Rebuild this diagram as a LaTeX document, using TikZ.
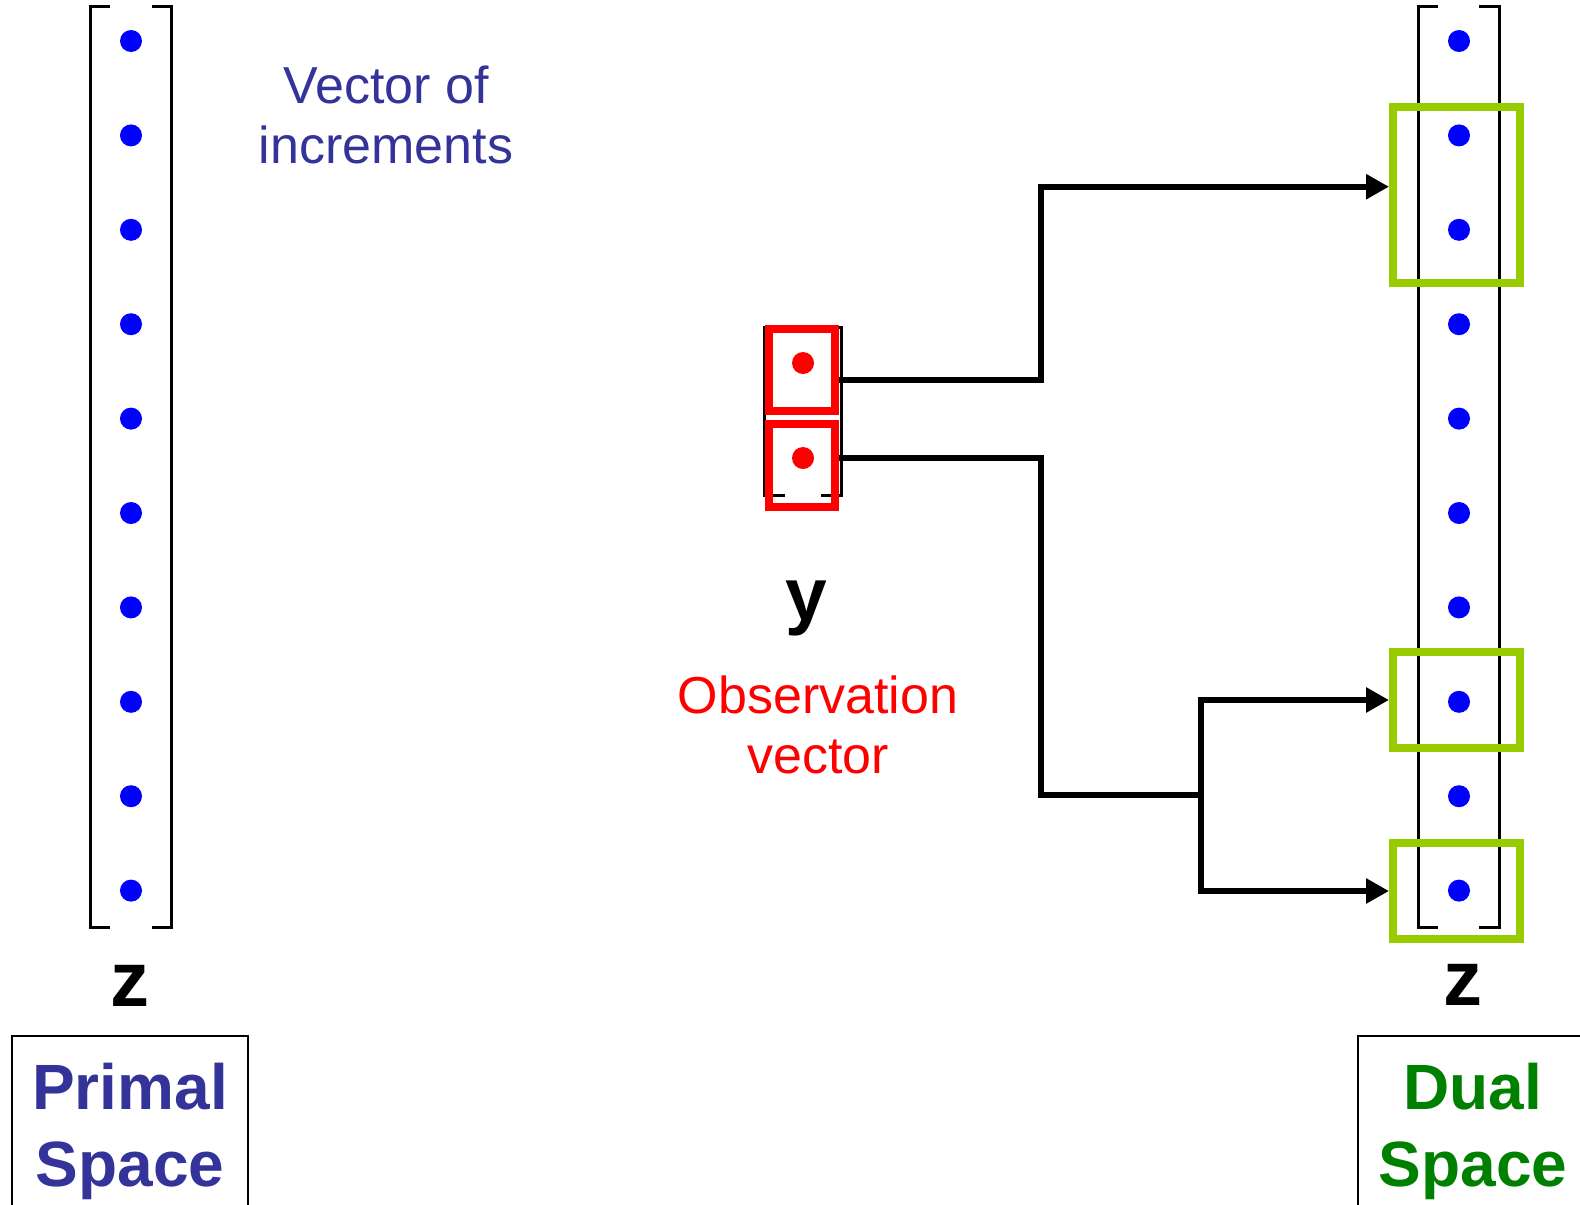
\documentclass[tikz,border=0pt]{standalone}
\usepackage{fontspec}
\setmainfont{Liberation Sans}
\usepackage{tikz}
\usetikzlibrary{arrows.meta, positioning}
\definecolor{incblue}{RGB}{51,51,153}
\definecolor{selgreen}{RGB}{153,204,0}
\definecolor{dualgreen}{RGB}{0,128,0}

\begin{document}
\begin{tikzpicture}[
        x=1pt, y=-1pt,
        dotz/.style={circle, fill=blue, inner sep=0pt, minimum size=22pt},
        doty/.style={circle, fill=red, inner sep=0pt, minimum size=22pt},
        brk/.style={line width=3pt},
        obsbox/.style={rectangle, draw=red, line width=8pt, inner sep=0pt, minimum width=66.5pt, minimum height=82.5pt},
        selbox/.style={rectangle, draw=selgreen, line width=8pt, inner sep=0pt, minimum width=127pt},
        spacebox/.style={rectangle, draw, line width=2pt, align=center, font=\bfseries\fontsize{64}{77}\selectfont, minimum height=190pt},
        lbl/.style={align=center, font=\fontsize{52}{60}\selectfont, anchor=base},
        vname/.style={font=\bfseries\fontsize{78}{90}\selectfont, anchor=base},
        conn/.style={line width=6pt},
        arr/.style={conn, -{Triangle[length=23pt, width=24pt]}},
    ]
    \useasboundingbox (0,0) rectangle (1580,1205);

    % vectors z
    \foreach \i in {1,...,10} {
        \node[dotz] (p\i) at (131, {41+94.4*(\i-1)}) {};
        \node[dotz] (d\i) at (1459, {41+94.4*(\i-1)}) {};
    }
    \draw[brk] (110,6) -| (90,927) -- (110,927);
    \draw[brk] (152,6) -| (171,927) -- (152,927);
    \draw[brk] (1438,6) -| (1418,927) -- (1438,927);
    \draw[brk] (1479,6) -| (1499,927) -- (1479,927);

    % vector y
    \draw[brk] (785,327) -| (764,495) -- (785,495);
    \draw[brk] (821,327) -| (841,495) -- (821,495);
    \node[obsbox] (obs1) at (802,370) {};
    \node[obsbox, minimum height=83pt] (obs2) at (802,465.5) {};
    \node[doty] (y1) at (803,363) {};
    \node[doty] (y2) at (803,458) {};

    % selected entries of dual z
    \node[selbox, minimum height=176pt] (g1) at (1456.5,195) {};
    \node[selbox, minimum height=96pt] (g2) at (1456.5,700) {};
    \node[selbox, minimum height=96pt] (g3) at (1456.5,891) {};

    \coordinate (trunk) at (1041,795);
    \coordinate (fork) at (1201,795);
    \draw[arr] (obs1.-15) -| (trunk |- g1.173) -- (g1.173);
    \draw[conn] (obs2.11) -| (trunk) -- (fork);
    \draw[arr] (fork) |- (g2.west);
    \draw[arr] (fork) |- (g3.west);

    % labels
    \node[lbl, text=incblue] (inc) at (386,163) {Vector of\\increments};
    \node[vname, font=\bfseries\fontsize{75}{90}\selectfont] (ylbl) at (806.5,620) {y};
    \node[lbl, text=red] (obs) at (818,773) {Observation\\vector};
    \node[vname] (zp) at (129.5,1006) {z};
    \node[vname] (zd) at (1463,1005) {z};
    \node[spacebox, text=incblue, minimum width=236pt, anchor=north] (primal) at (130,1035) {Primal\\Space};
    \node[spacebox, text=dualgreen, minimum width=230pt, anchor=north] (dual) at (1473,1035) {Dual\\Space};
\end{tikzpicture}
\end{document}
